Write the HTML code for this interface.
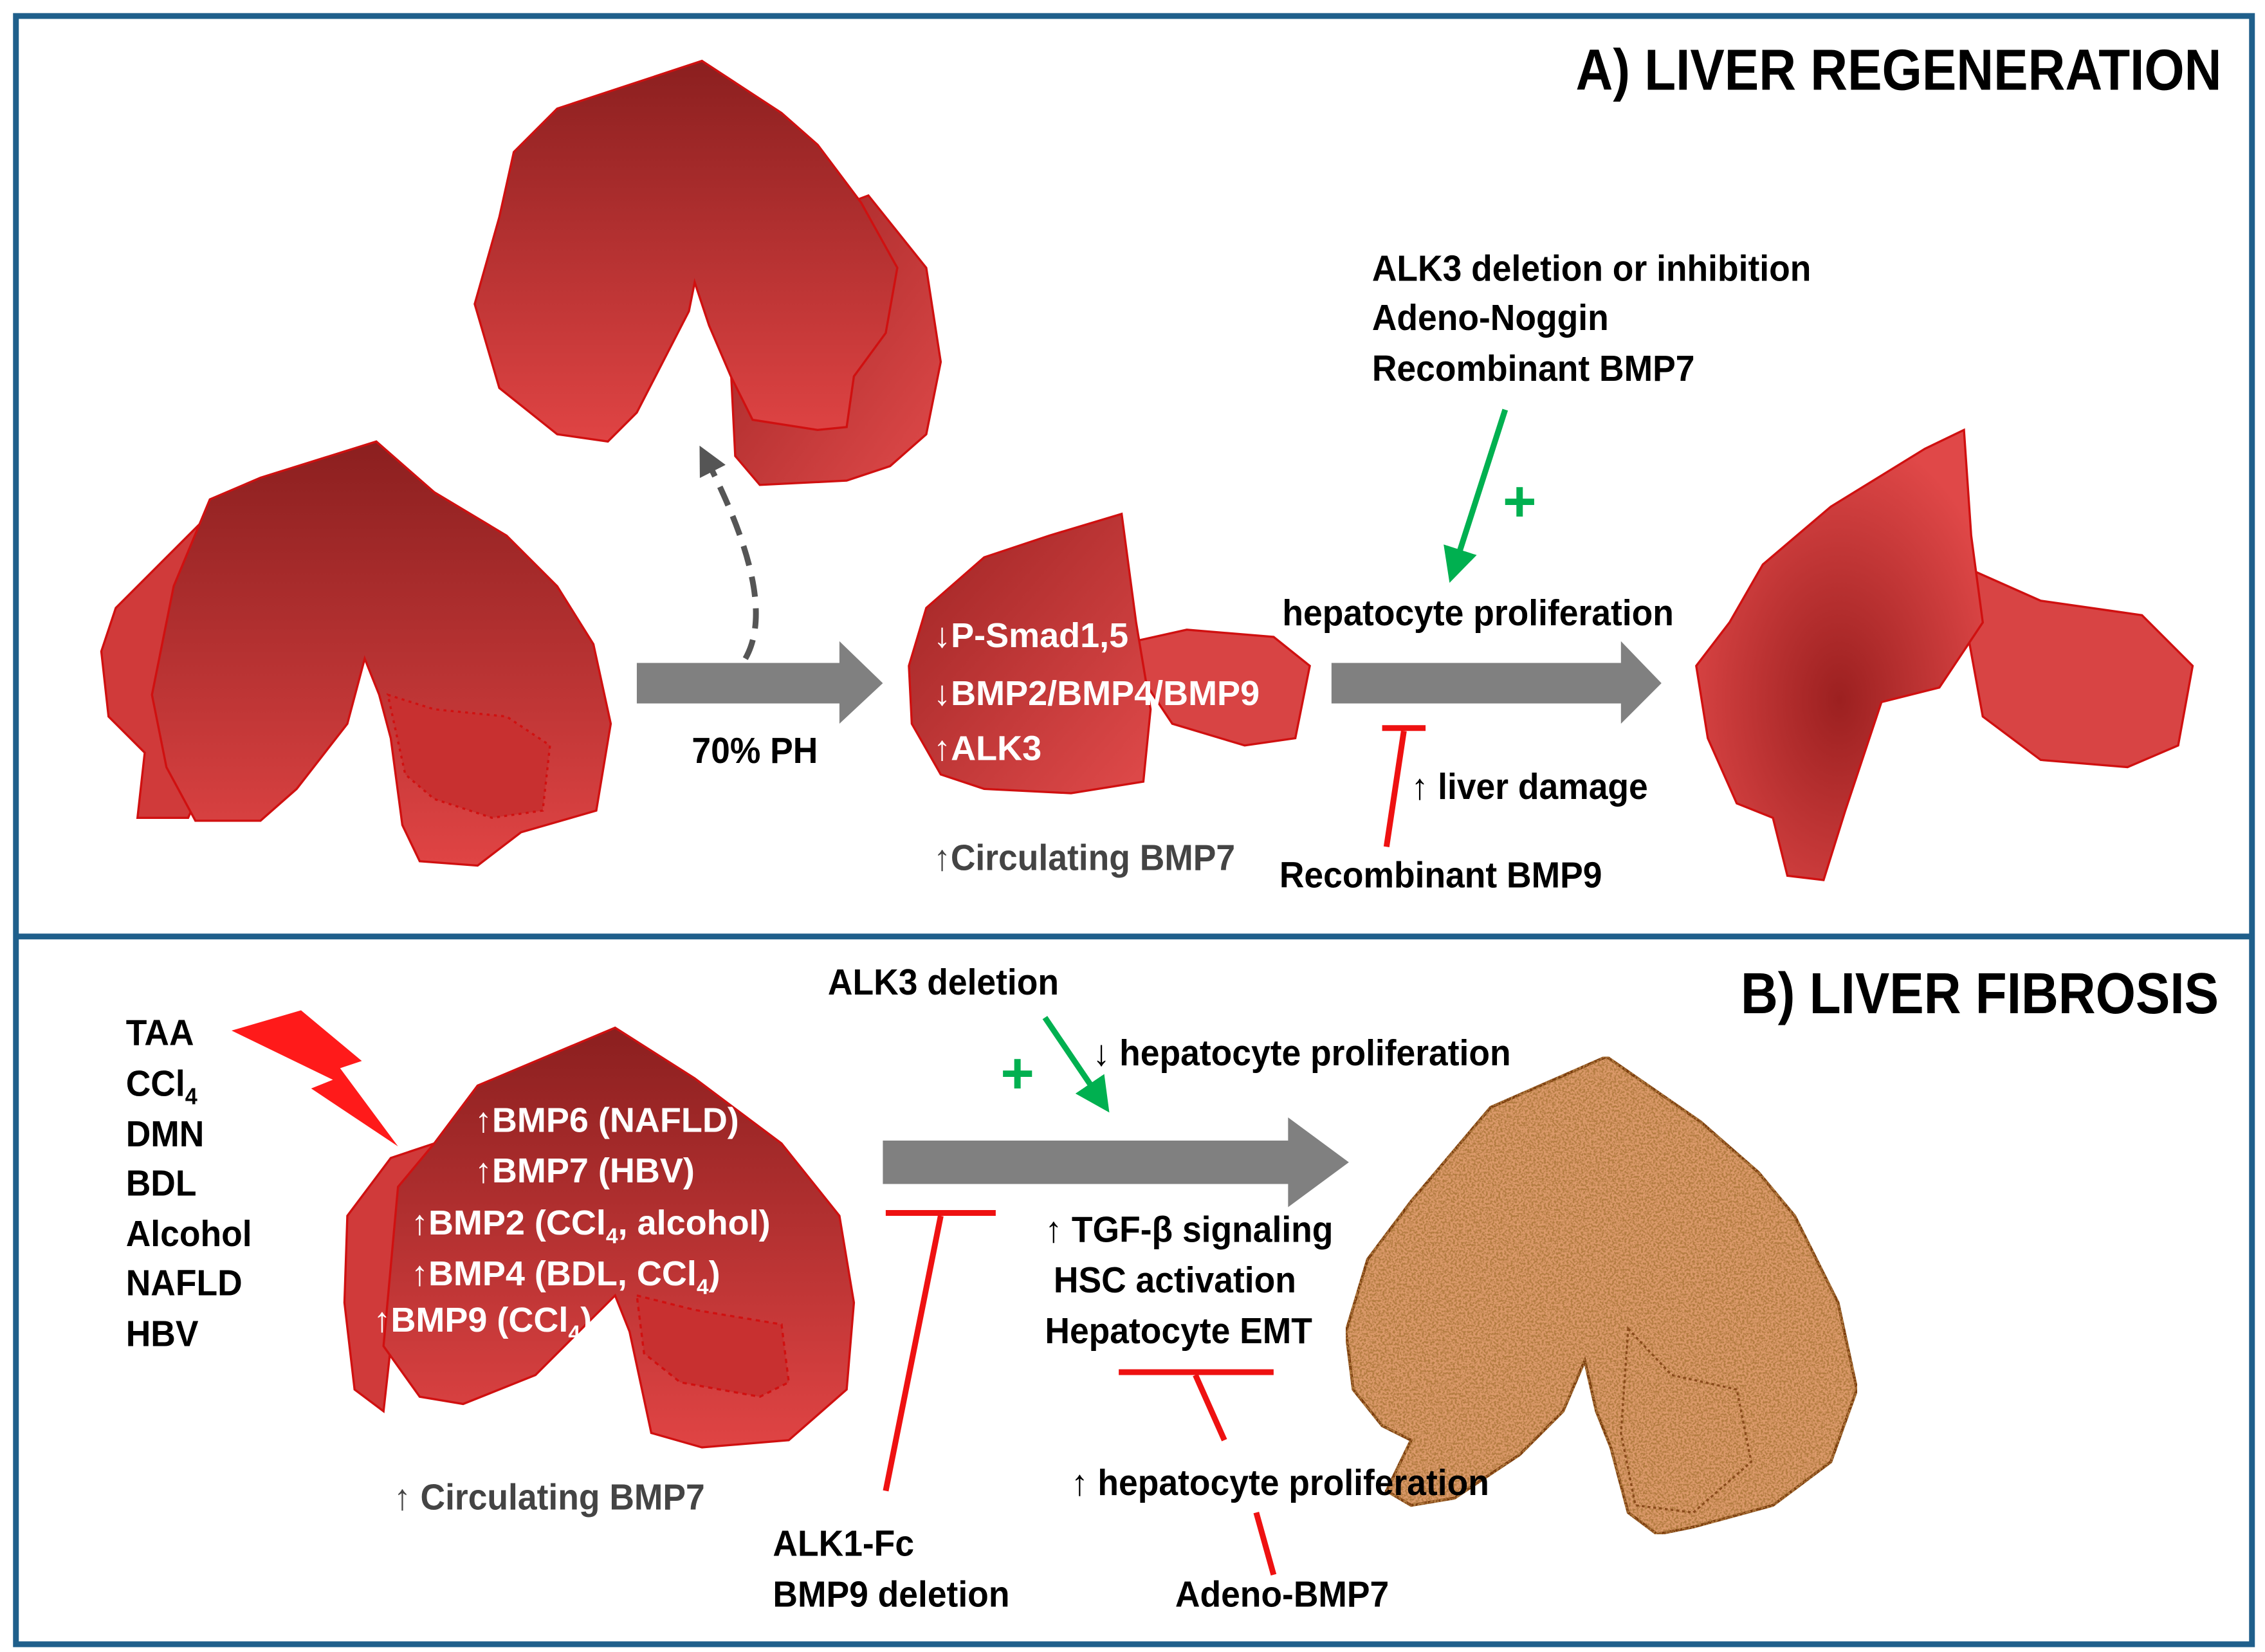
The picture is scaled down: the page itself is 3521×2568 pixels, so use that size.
<!DOCTYPE html>
<html><head><meta charset="utf-8"><style>
html,body{margin:0;padding:0;background:#fff;}
svg{display:block;}
text{font-family:"Liberation Sans Narrow","Liberation Sans",sans-serif;font-weight:bold;}
.c text{transform-box:fill-box;transform-origin:0 50%;transform:scaleX(.95);}
.t{transform-box:fill-box;transform-origin:100% 50%;transform:scaleX(.89);}
</style></head><body>
<svg width="3521" height="2568" viewBox="0 0 1565 1141.3" xmlns="http://www.w3.org/2000/svg">
<defs>
<linearGradient id="rg" x1="0" y1="0" x2="0" y2="1">
<stop offset="0" stop-color="#8b1f1f"/><stop offset="1" stop-color="#e04444"/></linearGradient>
<linearGradient id="rg2" x1="0" y1="0" x2="1" y2="1">
<stop offset="0" stop-color="#9e2424"/><stop offset="1" stop-color="#e04a4a"/></linearGradient>
<radialGradient id="rr" cx="0.5" cy="0.6" r="0.6">
<stop offset="0" stop-color="#9c2020"/><stop offset="1" stop-color="#e04848"/></radialGradient>
<filter id="noise" x="0" y="0" width="100%" height="100%">
<feTurbulence type="fractalNoise" baseFrequency="0.7" numOctaves="2" seed="3" result="t"/>
<feColorMatrix in="t" type="matrix" values="0 0 0 0 0.45  0 0 0 0 0.2  0 0 0 0 0.05  0 0 0 -4 2.4" result="n"/>
<feComposite in="n" in2="SourceGraphic" operator="in" result="nc"/>
<feMerge><feMergeNode in="SourceGraphic"/><feMergeNode in="nc"/></feMerge>
</filter>
<marker id="ag" markerWidth="6" markerHeight="6" refX="4" refY="3" orient="auto"><path d="M0,0 L6,3 L0,6 Z" fill="#00b050"/></marker>
<marker id="agr" markerWidth="5" markerHeight="5" refX="3" refY="2.5" orient="auto"><path d="M0,0 L5,2.5 L0,5 Z" fill="#555"/></marker>
</defs>
<rect x="0" y="0" width="1565" height="1141.3" fill="#fff"/>
<rect x="11" y="11" width="1545" height="1125" fill="none" stroke="#1f5f8b" stroke-width="4"/>
<line x1="11" y1="647" x2="1556" y2="647" stroke="#1f5f8b" stroke-width="4"/>

<text class="t" x="1535" y="62" text-anchor="end" font-size="40">A) LIVER REGENERATION</text>
<text class="t" x="1533" y="700" text-anchor="end" font-size="40">B) LIVER FIBROSIS</text>

<!-- Liver top -->
<g stroke="#d01010" stroke-width="1.5">
<path d="M505,255 L520,200 L560,150 L600,135 L640,185 L650,250 L640,300 L615,322 L585,332 L525,335 L508,315 Z" fill="url(#rg2)"/>
<path d="M328,210 L345,150 L355,105 L385,75 L485,42 L540,78 L565,100 L595,140 L620,185 L612,230 L590,260 L585,295 L565,297 L520,290 L505,260 L490,225 L480,195 L476,215 L440,285 L420,305 L385,300 L345,268 Z" fill="url(#rg)"/>
</g>
<!-- Liver left A -->
<g stroke="#d01010" stroke-width="1.5">
<path d="M80,420 L120,380 L140,360 L160,390 L150,520 L130,565 L95,565 L100,520 L75,495 L70,450 Z" fill="#d03a3a"/>
<path d="M120,405 L145,345 L180,330 L260,305 L300,340 L350,370 L385,405 L410,445 L422,500 L412,560 L360,575 L330,598 L290,595 L278,570 L270,510 L262,480 L252,455 L240,500 L205,545 L180,567 L135,567 L115,530 L105,480 Z" fill="url(#rg)"/>
<path d="M268,480 L300,490 L350,495 L380,515 L375,560 L340,565 L300,552 L280,535 Z" fill="#c83030" stroke-dasharray="2,3"/>
</g>
<!-- Liver middle A -->
<g stroke="#d01010" stroke-width="1.5">
<path d="M775,445 L820,435 L880,440 L905,460 L895,510 L860,515 L810,500 L790,470 Z" fill="#d84444"/>
<path d="M640,420 L680,385 L725,370 L775,355 L785,430 L795,490 L790,540 L740,548 L680,545 L650,535 L630,500 L628,460 Z" fill="url(#rg2)"/>
</g>
<!-- Liver right A -->
<g stroke="#d01010" stroke-width="1.5">
<path d="M1365,395 L1410,415 L1480,425 L1515,460 L1505,515 L1470,530 L1410,525 L1370,495 L1360,440 Z" fill="#d84444"/>
<path d="M1218,390 L1265,350 L1330,310 L1357,297 L1362,370 L1370,430 L1340,475 L1300,485 L1275,560 L1260,608 L1235,605 L1225,565 L1200,555 L1180,510 L1172,460 L1195,430 Z" fill="url(#rr)"/>
</g>

<!-- Liver B left -->
<g stroke="#d01010" stroke-width="1.5">
<path d="M300,790 L280,840 L270,930 L265,975 L245,960 L238,900 L240,840 L270,800 Z" fill="#d03a3a"/>
<path d="M275,820 L300,790 L330,750 L425,710 L480,745 L540,790 L580,840 L590,900 L585,960 L545,995 L485,1000 L450,990 L435,920 L425,895 L410,910 L370,950 L320,970 L290,965 L265,930 Z" fill="url(#rg)"/>
<path d="M440,895 L480,905 L540,915 L545,955 L525,965 L470,955 L445,935 Z" fill="#c83030" stroke-dasharray="3,3"/>
</g>
<!-- Liver B right (fibrotic) -->
<g filter="url(#noise)">
<path d="M1030,765 L1110,730 L1175,775 L1215,810 L1240,840 L1270,900 L1283,960 L1265,1010 L1225,1040 L1170,1055 L1145,1060 L1125,1045 L1113,1000 L1103,975 L1095,940 L1080,975 L1050,1005 L1005,1035 L975,1040 L958,1030 L975,995 L955,985 L935,960 L930,920 L945,870 L975,830 Z" fill="#dc9a6a" stroke="#7a3a0a" stroke-width="2"/>
</g>
<path d="M1125,918 L1155,950 L1200,960 L1210,1010 L1170,1045 L1130,1040 L1120,990 Z" fill="none" stroke="#8a4a1a" stroke-width="1.5" stroke-dasharray="2,2"/>

<!-- gray arrows -->
<path d="M440,458 L580,458 L580,443 L610,472 L580,500 L580,486 L440,486 Z" fill="#808080"/>
<path d="M920,458 L1120,458 L1120,443 L1148,472 L1120,500 L1120,486 L920,486 Z" fill="#808080"/>
<path d="M610,788 L890,788 L890,772 L932,803 L890,834 L890,818 L610,818 Z" fill="#808080"/>
<path d="M515,455 C535,420 510,360 487,315" fill="none" stroke="#555" stroke-width="4" stroke-dasharray="14,8" marker-end="url(#agr)"/>

<!-- green arrows and plus -->
<line x1="1040" y1="283" x2="1004" y2="395" stroke="#00b050" stroke-width="4" marker-end="url(#ag)"/>
<text x="1050" y="360" text-anchor="middle" font-size="40" fill="#00b050">+</text>
<line x1="722" y1="703" x2="762" y2="762" stroke="#00b050" stroke-width="4" marker-end="url(#ag)"/>
<text x="703" y="755" text-anchor="middle" font-size="40" fill="#00b050">+</text>

<!-- red inhibitors -->
<g stroke="#ee1111" stroke-width="4">
<line x1="955" y1="503" x2="985" y2="503"/><line x1="970" y1="505" x2="958" y2="585"/>
<line x1="612" y1="838" x2="688" y2="838"/><line x1="650" y1="840" x2="612" y2="1030"/>
<line x1="773" y1="948" x2="880" y2="948"/><line x1="826" y1="950" x2="846" y2="995"/>
<line x1="868" y1="1045" x2="880" y2="1088"/>
</g>
<!-- lightning -->
<path d="M160,712 L208,698 L250,733 L235,738 L275,792 L215,752 L230,746 Z" fill="#ff1a1a"/>

<!-- Text A -->
<g class="c" font-size="25" fill="#000">
<text x="948" y="194">ALK3 deletion or inhibition</text>
<text x="948" y="228">Adeno-Noggin</text>
<text x="948" y="263">Recombinant BMP7</text>
<text x="886" y="432">hepatocyte proliferation</text>
<text x="975" y="552">↑ liver damage</text>
<text x="884" y="613">Recombinant BMP9</text>
<text x="478" y="527">70% PH</text>
<text x="645" y="601" fill="#444">↑Circulating BMP7</text>
</g>
<g font-size="24" fill="#fff">
<text x="645" y="447">↓P-Smad1,5</text>
<text x="645" y="487">↓BMP2/BMP4/BMP9</text>
<text x="645" y="525">↑ALK3</text>
</g>
<!-- Text B -->
<g class="c" font-size="25" fill="#000">
<text x="87" y="722">TAA</text>
<text x="87" y="757">CCl<tspan font-size="16" dy="6">4</tspan></text>
<text x="87" y="792">DMN</text>
<text x="87" y="826">BDL</text>
<text x="87" y="861">Alcohol</text>
<text x="87" y="895">NAFLD</text>
<text x="87" y="930">HBV</text>
<text x="572" y="687">ALK3 deletion</text>
<text x="755" y="736">↓ hepatocyte proliferation</text>
<text x="722" y="858">↑ TGF-β  signaling</text>
<text x="728" y="893">HSC  activation</text>
<text x="722" y="928">Hepatocyte EMT</text>
<text x="740" y="1033">↑ hepatocyte proliferation</text>
<text x="534" y="1075">ALK1-Fc</text>
<text x="534" y="1110">BMP9 deletion</text>
<text x="812" y="1110">Adeno-BMP7</text>
<text x="272" y="1043" fill="#444">↑ Circulating BMP7</text>
</g>
<g font-size="24" fill="#fff">
<text x="328" y="782">↑BMP6 (NAFLD)</text>
<text x="328" y="817">↑BMP7 (HBV)</text>
<text x="284" y="853">↑BMP2 (CCl<tspan font-size="15" dy="6">4</tspan><tspan dy="-6">, alcohol)</tspan></text>
<text x="284" y="888">↑BMP4 (BDL, CCl<tspan font-size="15" dy="6">4</tspan><tspan dy="-6">)</tspan></text>
<text x="258" y="920">↑BMP9 (CCl<tspan font-size="15" dy="6">4</tspan><tspan dy="-6">)</tspan></text>
</g>
</svg>
</body></html>
